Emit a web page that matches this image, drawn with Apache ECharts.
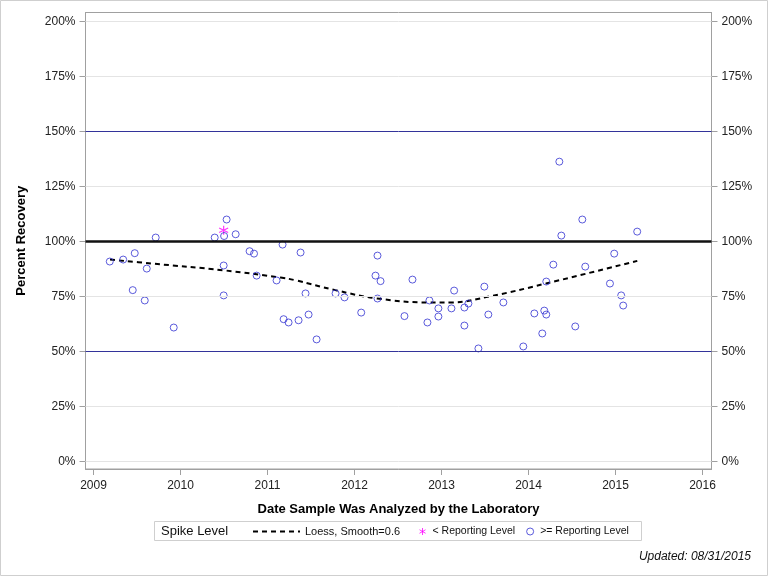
<!DOCTYPE html>
<html>
<head>
<meta charset="utf-8">
<script src="https://cdn.jsdelivr.net/npm/echarts@6/dist/echarts.min.js"></script>
<style>
html,body{margin:0;padding:0;background:#fff;}
#chart{width:768px;height:576px;}
</style>
</head>
<body>
<div id="chart"></div>
<script>
// ---- data ----
const yearTicks = [2009, 2010, 2011, 2012, 2013, 2014, 2015, 2016];
const pctTicks = [0, 25, 50, 75, 100, 125, 150, 175, 200];

const loessDates = [2009.19, 2009.67, 2010.50, 2011.15, 2011.32, 2011.78, 2012.26, 2012.86, 2013.10, 2013.56, 2014.20, 2015.25];
const loessPct   = [91.8, 90.0, 86.9, 83.6, 82.4, 77.9, 74.1, 72.3, 72.3, 75.1, 80.9, 91.2];

const belowDates = [2010.496];
const belowPct   = [105.1];

const aboveDates = [2009.187, 2009.341, 2009.474, 2009.612, 2009.451, 2009.589, 2009.715, 2009.922,
  2010.393, 2010.501, 2010.530, 2010.634, 2010.496, 2010.496, 2010.794, 2010.845, 2010.875,
  2011.104, 2011.173, 2011.185, 2011.242, 2011.380, 2011.357, 2011.437, 2011.472, 2011.564, 2011.782, 2011.885,
  2012.077, 2012.264, 2012.241, 2012.299, 2012.264, 2012.574, 2012.666, 2012.838, 2012.861, 2012.964, 2012.964,
  2013.114, 2013.145, 2013.263, 2013.263, 2013.309, 2013.424, 2013.492, 2013.538, 2013.711, 2013.940,
  2014.067, 2014.181, 2014.204, 2014.158, 2014.204, 2014.285, 2014.354, 2014.377, 2014.537, 2014.618, 2014.652,
  2014.936, 2014.985, 2015.065, 2015.088, 2015.249];
const abovePct = [90.9, 91.8, 94.7, 87.7, 77.9, 73.2, 101.8, 60.9,
  101.8, 102.5, 110.0, 103.3, 89.1, 75.5, 95.6, 94.5, 84.5,
  82.3, 98.6, 64.7, 63.2, 95.0, 64.2, 76.4, 66.8, 55.5, 76.4, 74.6,
  67.7, 93.6, 84.5, 82.0, 74.1, 66.1, 82.7, 63.2, 73.2, 69.6, 65.9,
  69.6, 77.7, 70.0, 61.8, 71.8, 51.4, 79.5, 66.8, 72.3, 52.3,
  67.3, 68.6, 66.8, 58.2, 81.8, 89.5, 136.3, 102.7, 61.4, 110.0, 88.6,
  80.9, 94.5, 75.5, 70.9, 104.5];

const gridLevels = [0, 25, 75, 125, 175, 200];
const boundLevels = [50, 150];
const spikeLevels = [100];

// ---- chart ----
const zip = (xs, ys) => xs.map((x, i) => [x, ys[i]]);
const FONT = '"Liberation Sans", Arial, sans-serif';
const chart = echarts.init(document.getElementById('chart'), null, {renderer: 'canvas'});

const markLines = []
  .concat(gridLevels.map(v => ({yAxis: v, lineStyle: {color: '#e4e4e4', width: 1, type: 'solid'}})))
  .concat(boundLevels.map(v => ({yAxis: v, lineStyle: {color: '#33339a', width: 1, type: 'solid'}})))
  .concat(spikeLevels.map(v => ({yAxis: v, lineStyle: {color: '#111', width: 2.5, type: 'solid'}})));

const starPath = 'path://M0,-10L0,10M-8.66,-5L8.66,5M-8.66,5L8.66,-5';

const yCommon = {
  type: 'value', min: -3.4, max: 204.1,
  axisLine: {show: true, onZero: false, lineStyle: {color: '#a0a0a0'}},
  axisTick: {show: true, length: 6, customValues: pctTicks, lineStyle: {color: '#a0a0a0'}},
  axisLabel: {customValues: pctTicks, formatter: v => v + '%', color: '#222', fontFamily: FONT, fontSize: 12, margin: 10},
  splitLine: {show: false}
};

chart.setOption({
  animation: false,
  backgroundColor: '#fff',
  textStyle: {fontFamily: FONT},
  grid: {left: 85.5, right: 56.5, top: 12.5, bottom: 107, show: true, borderColor: '#a0a0a0', borderWidth: 1, containLabel: false},
  xAxis: {
    type: 'value', min: 2008.908, max: 2016.103,
    name: 'Date Sample Was Analyzed by the Laboratory', nameLocation: 'middle', nameGap: 34,
    nameTextStyle: {fontFamily: FONT, fontWeight: 'bold', fontSize: 13, color: '#000'},
    axisLine: {show: true, onZero: false, lineStyle: {color: '#a0a0a0'}},
    axisTick: {show: true, length: 6, customValues: yearTicks, lineStyle: {color: '#a0a0a0'}},
    axisLabel: {customValues: yearTicks, formatter: v => String(v), color: '#222', fontFamily: FONT, fontSize: 12, margin: 11},
    splitLine: {show: false}
  },
  yAxis: [
    Object.assign({}, yCommon, {
      position: 'left',
      name: 'Percent Recovery', nameLocation: 'middle', nameGap: 58, nameRotate: 90,
      nameTextStyle: {fontFamily: FONT, fontWeight: 'bold', fontSize: 13, color: '#000'}
    }),
    Object.assign({}, yCommon, {position: 'right'})
  ],
  legend: [
    {
      data: ['Loess, Smooth=0.6'], left: 252, top: 526, padding: 0, itemWidth: 47, itemHeight: 10,
      itemStyle: {color: 'rgba(0,0,0,0)', borderWidth: 0},
      textStyle: {fontFamily: FONT, fontSize: 11, color: '#111'}, selectedMode: false
    },
    {
      data: ['< Reporting Level', '>= Reporting Level'], left: 419, top: 526, padding: 0, itemWidth: 10, itemHeight: 7, itemGap: 11,
      itemStyle: {borderWidth: 1},
      textStyle: {fontFamily: FONT, fontSize: 10.5, color: '#111'}, selectedMode: false
    }
  ],
  series: [
    {
      name: 'ref', type: 'line', data: [], silent: true,
      markLine: {silent: true, symbol: 'none', label: {show: false}, data: markLines, animation: false}
    },
    {
      name: 'Loess, Smooth=0.6', type: 'line', data: zip(loessDates, loessPct), smooth: 0.4,
      showSymbol: false, symbol: 'none', z: 3,
      lineStyle: {color: '#000', width: 2, type: [5, 4]}, itemStyle: {color: '#000'}
    },
    {
      name: '< Reporting Level', type: 'scatter', data: zip(belowDates, belowPct), symbol: starPath, symbolSize: 9, z: 4,
      itemStyle: {color: 'rgba(0,0,0,0)', borderColor: '#ff00ff', borderWidth: 1.2}
    },
    {
      name: '>= Reporting Level', type: 'scatter', data: zip(aboveDates, abovePct), symbol: 'circle', symbolSize: 7, z: 4,
      itemStyle: {color: 'rgba(255,255,255,0)', borderColor: '#3232d2', borderWidth: 1}
    }
  ],
  graphic: [
    {type: 'rect', shape: {x: 0.5, y: 0.5, width: 767, height: 575}, style: {fill: 'none', stroke: '#cfcfcf', lineWidth: 1}, silent: true},
    {type: 'rect', shape: {x: 154.5, y: 521.5, width: 487, height: 19}, style: {fill: 'none', stroke: '#cfcfcf', lineWidth: 1}, silent: true},
    {type: 'text', x: 161, y: 531, style: {text: 'Spike Level', font: '13px ' + FONT, fill: '#111', textVerticalAlign: 'middle', verticalAlign: 'middle'}, silent: true},
    {type: 'text', x: 751, y: 557, style: {text: 'Updated: 08/31/2015', font: 'italic 12px ' + FONT, fill: '#111', align: 'right', textAlign: 'right', verticalAlign: 'middle', textVerticalAlign: 'middle'}, silent: true}
  ]
});
</script>
</body>
</html>
